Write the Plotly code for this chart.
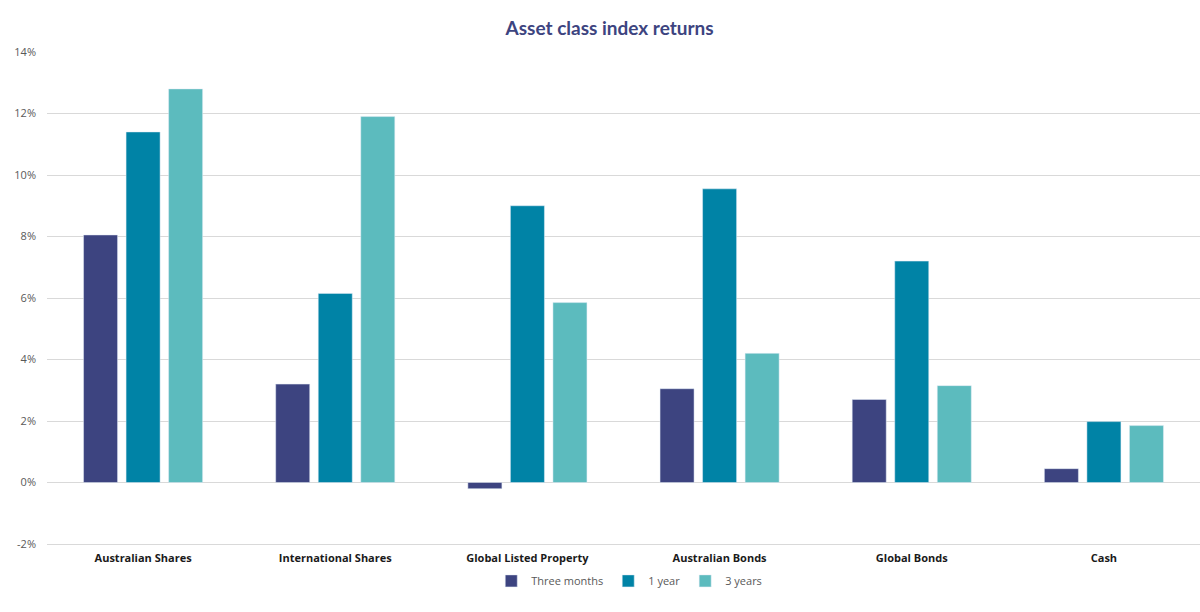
import plotly.graph_objects as go

categories = ["Australian Shares", "International Shares", "Global Listed Property",
              "Australian Bonds", "Global Bonds", "Cash"]
three_months = [8.05, 3.2, -0.2, 3.05, 2.7, 0.45]
one_year = [11.4, 6.15, 9.0, 9.55, 7.2, 1.98]
three_years = [12.8, 11.9, 5.85, 4.2, 3.15, 1.85]
tick_vals = [-2, 0, 2, 4, 6, 8, 10, 12, 14]
tick_text = ["-2%", "0%", "2%", "4%", "6%", "8%", "10%", "12%", "14%"]

fig = go.Figure()
fig.add_trace(go.Bar(name="Three months", x=categories, y=three_months, marker_color="#3d4480"))
fig.add_trace(go.Bar(name="1 year", x=categories, y=one_year, marker_color="#0083a6"))
fig.add_trace(go.Bar(name="3 years", x=categories, y=three_years, marker_color="#5cbbbe"))

fig.update_layout(
    width=1200, height=612,
    paper_bgcolor="white", plot_bgcolor="white",
    margin=dict(l=47, r=0, t=52, b=68),
    barmode="group", bargap=0.336, bargroupgap=0.2,
    title=dict(text="<b>Asset class index returns</b>", x=0.508, xanchor="center",
               y=0.953, yanchor="middle",
               font=dict(family="Lato", size=19, color="#3d4480")),
    font=dict(family="Open Sans", color="#595959"),
    legend=dict(orientation="h", x=0.505, xanchor="center", y=-0.075, yanchor="middle",
                font=dict(size=11, color="#595959"), itemwidth=30, traceorder="normal"),
    showlegend=True,
)
fig.update_yaxes(range=[-2, 14], tickvals=tick_vals, ticktext=tick_text,
                 showgrid=True, gridcolor="#d9d9d9", gridwidth=1, zeroline=True,
                 zerolinecolor="#d9d9d9", zerolinewidth=1,
                 tickfont=dict(size=11, color="#595959"), ticklabelstandoff=10)
fig.update_xaxes(showline=True, linecolor="#d9d9d9", ticks="",
                 tickfont=dict(family="Open Sans", size=11, color="#1a1a1a"),
                 tickprefix="<b>", ticksuffix="</b>", ticklabelstandoff=4)

fig.write_html("out.html")
